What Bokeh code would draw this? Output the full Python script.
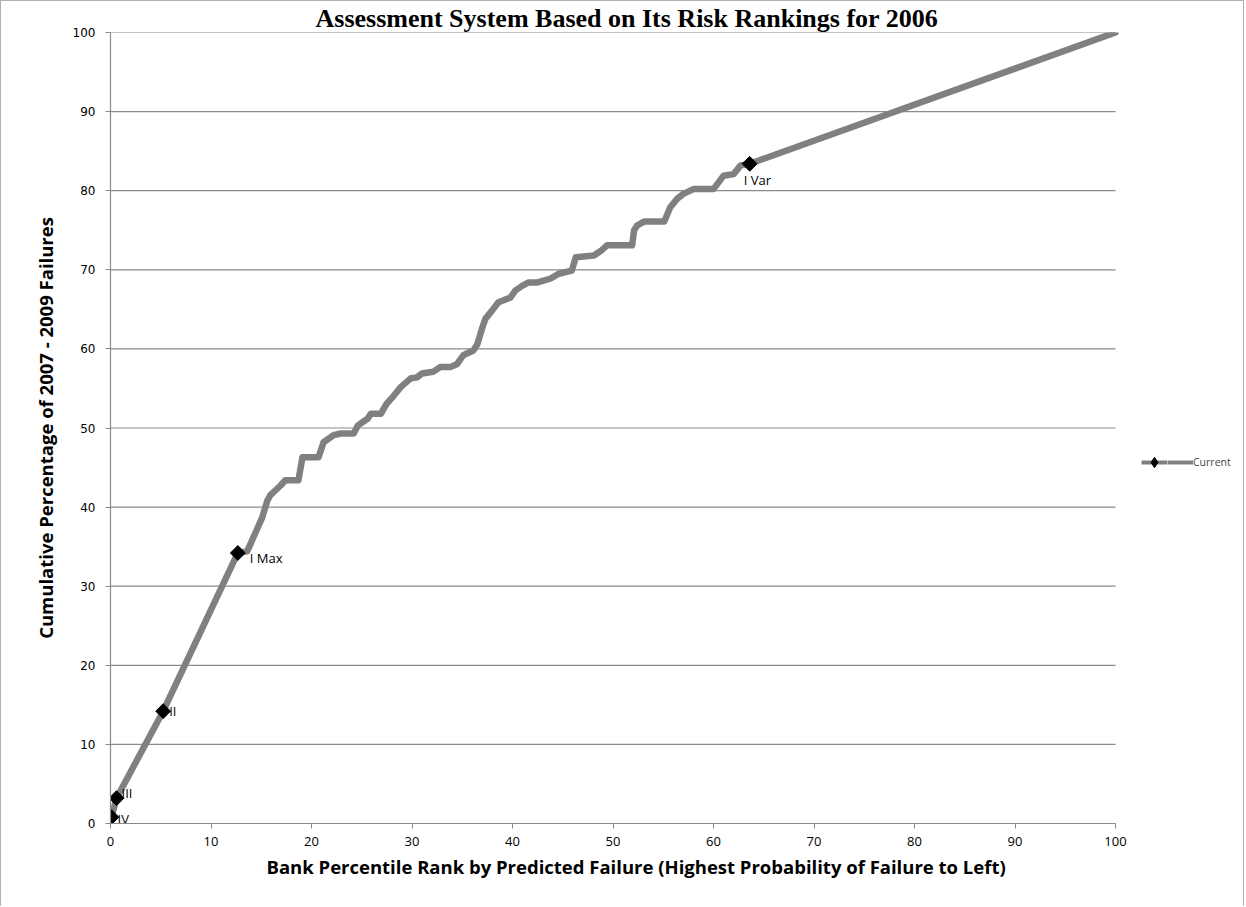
import math
from bokeh.plotting import figure
from bokeh.models import (Range1d, FixedTicker, ColumnDataSource, Legend,
                          LegendItem, Title)
from bokeh.embed import file_html
from bokeh.resources import INLINE
from bokeh.core.properties import value

# ---------------- data ----------------
TITLE = "Assessment System Based on Its Risk Rankings for 2006"
X_LABEL = "Bank Percentile Rank by Predicted Failure (Highest Probability of Failure to Left)"
Y_LABEL = "Cumulative Percentage of 2007 - 2009 Failures"
SERIES = "Current"

curve_x = [0.0, 0.1, 0.6, 5.24, 12.67, 13.6, 14.4, 15.1, 15.6, 15.9,
           16.9, 17.4, 18.7, 19.1, 20.7, 21.2, 22.2, 22.9, 24.2, 24.6,
           25.6, 25.9, 26.9, 27.5, 28.2, 28.9, 29.9, 30.5, 31.0, 32.1,
           32.8, 33.8, 34.5, 35.1, 36.1, 36.5, 37.0, 37.3, 38.0, 38.6,
           39.8, 40.3, 41.0, 41.6, 42.5, 43.8, 44.6, 45.9, 46.3, 48.1,
           48.8, 49.4, 51.9, 52.1, 52.4, 53.1, 55.1, 55.7, 56.4, 57.0,
           58.0, 60.0, 61.0, 62.0, 62.7, 63.6, 100.0]
curve_y = [0.0, 0.8, 3.2, 14.2, 34.2, 34.4, 36.7, 38.7, 40.8, 41.5,
           42.7, 43.4, 43.4, 46.3, 46.3, 48.2, 49.1, 49.3, 49.3, 50.3,
           51.2, 51.8, 51.8, 53.1, 54.1, 55.2, 56.3, 56.4, 56.9, 57.1,
           57.7, 57.7, 58.1, 59.2, 59.8, 60.6, 62.7, 63.8, 64.9, 65.9,
           66.5, 67.4, 68.0, 68.4, 68.4, 68.9, 69.5, 69.9, 71.6, 71.8,
           72.4, 73.1, 73.1, 75.0, 75.6, 76.1, 76.1, 77.9, 79.0, 79.6,
           80.2, 80.2, 81.9, 82.1, 83.2, 83.4, 100.0]

marker_x = [0.1, 0.6, 5.24, 12.67, 63.6]
marker_y = [0.8, 3.2, 14.2, 34.2, 83.4]
marker_labels = ["IV", "III", "II", "I Max", "I Var"]

x_ticks = [0, 10, 20, 30, 40, 50, 60, 70, 80, 90, 100]
y_ticks = [0, 10, 20, 30, 40, 50, 60, 70, 80, 90, 100]

# ---------------- styling ----------------
GRAY_LINE = "#808080"
GRID = "#8a8a8a"
FONT = "Open Sans"

W, H = 1244, 906
LEFT, TOP, BOTTOM = 109, 31, 84
PX_PER_UNIT = 10.05                       # 100 units of x span 1005 px
x_end = (W - LEFT) / PX_PER_UNIT          # frame runs to the right edge (legend room)

p = figure(width=W, height=H,
           x_range=Range1d(0, x_end), y_range=Range1d(0, 100),
           output_backend="svg", toolbar_location=None,
           min_border_left=LEFT, min_border_right=0,
           min_border_top=TOP, min_border_bottom=BOTTOM)
p.outline_line_color = None
p.background_fill_color = "white"
p.border_fill_color = "white"
p.styles = {"border-top": "1px solid #b0b0b0",
            "border-left": "1px solid #b0b0b0",
            "border-right": "1px solid #b0b0b0"}

# title
p.title.text = TITLE
p.title.align = "left"
p.title.offset = 205
p.title.text_font = "Liberation Serif"
p.title.text_font_style = "bold"
p.title.text_font_size = "26px"
p.title.text_color = "black"
p.title.standoff = 0

# horizontal gridlines only across the 0-100 axis span
p.xgrid.visible = False
p.ygrid.visible = False
p.segment(x0=[x_ticks[0]] * len(y_ticks), y0=y_ticks,
          x1=[x_ticks[-1]] * len(y_ticks), y1=y_ticks,
          line_color=GRID, line_width=1.2)

# axes
for ax in (p.xaxis[0], p.yaxis[0]):
    ax.axis_line_color = GRID
    ax.axis_line_width = 1.2
    ax.major_tick_line_color = GRID
    ax.major_tick_in = 0
    ax.major_tick_out = 5
    ax.minor_tick_line_color = None
    ax.major_label_text_color = "black"
    ax.axis_label_text_color = "black"
    ax.axis_label_text_font = FONT
    ax.axis_label_text_font_style = "bold"
    ax.axis_label_text_font_size = "18.5px"

p.xaxis.bounds = (x_ticks[0], x_ticks[-1])
p.xaxis.ticker = FixedTicker(ticks=x_ticks)
p.yaxis.ticker = FixedTicker(ticks=y_ticks)
p.yaxis.axis_label = Y_LABEL
p.xaxis.major_label_text_font = FONT
p.xaxis.major_label_text_font_size = "13px"
p.xaxis.major_label_standoff = 8
p.yaxis.major_label_text_font = "DejaVu Sans"
p.yaxis.major_label_text_font_size = "12px"
p.yaxis.major_label_standoff = 10
p.yaxis.axis_label_standoff = 12

# x-axis title, centred under the 0-100 span (not the widened frame)
p.add_layout(Title(text=X_LABEL, align="left", offset=156, standoff=6,
                   text_font=FONT, text_font_style="bold",
                   text_font_size="18.5px", text_color="black"), "below")

# thinner copy of the series line, hidden under the main line (legend sample)
leg_line = p.line(curve_x, curve_y, line_color=GRAY_LINE, line_width=4)

# curve
line_r = p.line(curve_x, curve_y, line_color=GRAY_LINE, line_width=6.5,
                line_join="round", line_cap="round")

# narrow diamonds hidden beneath the square-diamond markers (legend sample)
leg_diam = p.scatter(marker_x, marker_y, marker="diamond", size=13,
                     fill_color="black", line_color="black")

# markers
scat_r = p.scatter(marker_x, marker_y, marker="square", size=10.5,
                   angle=math.pi / 4, fill_color="black", line_color="black")

# point labels
lab_src = ColumnDataSource(dict(
    x=marker_x, y=marker_y, text=marker_labels,
    xo=[6, 5, 6, 12, -6], yo=[2, -5, 0, 5, 16]))
p.text(x="x", y="y", text="text", x_offset="xo", y_offset="yo", source=lab_src,
       text_font=value(FONT), text_font_size="13px", text_color="black",
       text_baseline="middle", text_align="left")

# legend (Excel style: diamond at the left end of the line)
legend = Legend(items=[LegendItem(label="", renderers=[leg_line, leg_diam]),
                       LegendItem(label=SERIES, renderers=[leg_line])],
                orientation="horizontal",
                location=(1031, 347), glyph_width=26, glyph_height=28,
                label_width=0, label_standoff=0, label_text_font=FONT,
                label_text_font_size="10.5px", label_height=28,
                border_line_color=None, background_fill_alpha=0,
                padding=0, margin=0, spacing=0)
p.add_layout(legend, "center")

open("out.html", "w").write(file_html(p, INLINE))
